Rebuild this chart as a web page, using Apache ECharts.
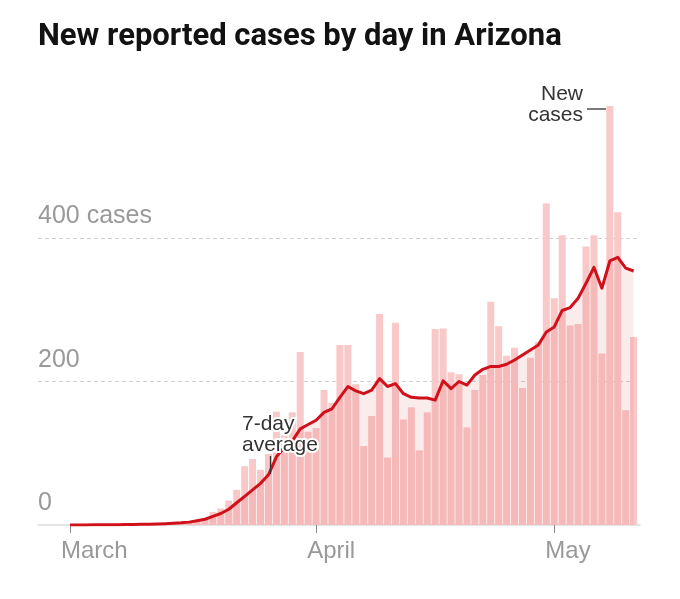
<!DOCTYPE html>
<html><head><meta charset="utf-8">
<script src="https://cdn.jsdelivr.net/npm/echarts@6/dist/echarts.min.js"></script>
<style>html,body{margin:0;padding:0;background:#fff}#c{width:680px;height:599px}</style>
</head><body><div id="c"></div>
<script>
// Day index 0 = March 1, index 71 = May 11
const monthLabels = ['March', 'April', 'May'];
const monthStartIdx = [0, 31, 61];
const yTicks = [0, 200, 400];

const newCases = [
  0, 0, 0, 0, 0, 0, 0, 0, 1, 1,
  0, 1, 1, 2, 3, 4, 5, 8, 18, 23,
  34, 49, 82, 92, 77, 99, 158, 125, 157, 241,
  130, 135, 188, 170, 251, 251, 196, 110, 152, 294,
  94, 282, 147, 164, 104, 157, 273, 274, 213, 210,
  136, 188, 209, 311, 277, 236, 247, 191, 233, 255,
  448, 316, 404, 278, 280, 388, 404, 239, 584, 436,
  160, 262
];

const sevenDayAvg = [
  0, 0, 0, 0.3, 0.3, 0.3, 0.4, 0.6, 0.7, 0.9,
  1, 1.3, 1.7, 2.3, 3, 4, 6, 8, 12, 16,
  22, 31, 40, 49, 58, 70, 95, 108, 117, 134,
  140, 146, 157, 162, 178, 193, 187, 183, 188, 204,
  193, 197, 183, 178, 177, 177, 174, 201, 190, 200,
  195, 209, 217, 221, 221, 224, 230, 237, 244, 251,
  269, 276, 299, 303, 316, 337, 359, 330, 368, 373,
  358, 354
];

const chart = echarts.init(document.getElementById('c'), null, {renderer: 'canvas'});
const labelFont = 'Liberation Sans';

chart.setOption({
  animation: false,
  backgroundColor: '#fff',
  title: {
    text: 'New reported cases by day in Arizona',
    left: 38, top: 22, padding: 0,
    textStyle: {fontFamily: 'Roboto', fontWeight: 'bold', fontSize: 31, color: '#121212'}
  },
  grid: {left: 38, right: 40, top: 101.67, bottom: 74},
  xAxis: {
    type: 'value', min: -4.03, max: 71.8,
    splitLine: {show: false},
    axisLine: {show: true, lineStyle: {color: '#dcdcdc', width: 1.5}},
    axisTick: {show: true, customValues: monthStartIdx, length: 8, lineStyle: {color: '#888', width: 1}},
    axisLabel: {
      customValues: monthStartIdx.map(v => v - 1.13),
      align: 'left', margin: 14,
      fontFamily: labelFont, fontSize: 24, color: '#999',
      formatter: function (v) {
        let k = 0;
        for (let j = 0; j < monthStartIdx.length; j++) if (v + 1.13 >= monthStartIdx[j] - 0.5) k = j;
        return monthLabels[k];
      }
    }
  },
  yAxis: {
    type: 'value', min: 0, max: 590, interval: 200,
    axisLine: {show: false}, axisTick: {show: false},
    splitLine: {show: true, showMinLine: false, showMaxLine: false,
      lineStyle: {color: '#cfcfcf', type: [4, 3], width: 1}},
    axisLabel: {
      inside: true, margin: 0, align: 'left', verticalAlign: 'bottom',
      customValues: yTicks,
      padding: [0, 0, 9, 0],
      fontFamily: labelFont, fontSize: 25, color: '#999',
      formatter: v => (v === 400 ? '400 cases' : String(v))
    }
  },
  series: [
    {
      type: 'bar', name: 'New cases',
      data: newCases.map((v, i) => [i, v]),
      barWidth: 7,
      itemStyle: {color: '#f9c8c8'},
      z: 2
    },
    {
      type: 'line', name: '7-day average',
      data: sevenDayAvg.map((v, i) => [i, v]),
      showSymbol: false, symbol: 'none',
      lineStyle: {color: '#d0111b', width: 3, join: 'round'},
      areaStyle: {color: 'rgba(205,15,15,0.11)', origin: 'start'},
      z: 3
    }
  ],
  graphic: [
    {type: 'text', left: 240, top: 412, z: 10,
      style: {text: '7-day', font: '21px "Liberation Sans"', fill: '#333', stroke: '#fff', lineWidth: 4}},
    {type: 'text', left: 240, top: 433, z: 10,
      style: {text: 'average', font: '21px "Liberation Sans"', fill: '#333', stroke: '#fff', lineWidth: 4}},
    {type: 'line', z: 10, shape: {x1: 270.5, y1: 456, x2: 270.5, y2: 474}, style: {stroke: '#333', lineWidth: 1.3}},
    {type: 'text', z: 10, x: 583, y: 84,
      style: {text: 'New', font: '21px "Liberation Sans"', fill: '#333', align: 'right', verticalAlign: 'top'}},
    {type: 'text', z: 10, x: 583, y: 105,
      style: {text: 'cases', font: '21px "Liberation Sans"', fill: '#333', align: 'right', verticalAlign: 'top'}},
    {type: 'line', z: 10, shape: {x1: 587, y1: 109, x2: 606, y2: 109}, style: {stroke: '#333', lineWidth: 1.3}}
  ]
});
</script>
</body></html>
